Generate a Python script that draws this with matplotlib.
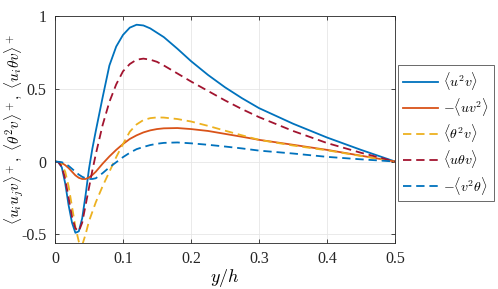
import matplotlib
matplotlib.use("Agg")
import matplotlib.pyplot as plt

# ---- data ----
x = [0, 0.005, 0.01, 0.015, 0.02, 0.025, 0.03, 0.035, 0.04, 0.045, 0.05, 0.055,
     0.06, 0.07, 0.08, 0.09, 0.1, 0.11, 0.12, 0.13, 0.14, 0.15, 0.16, 0.18,
     0.2, 0.225, 0.25, 0.275, 0.3, 0.35, 0.4, 0.45, 0.5]

u2v = [0, -0.005, -0.04, -0.15, -0.30, -0.42, -0.49, -0.48, -0.39, -0.23, -0.05, 0.09,
       0.21, 0.44, 0.66, 0.79, 0.87, 0.92, 0.94, 0.935, 0.915, 0.885, 0.855, 0.775,
       0.69, 0.595, 0.51, 0.435, 0.367, 0.26, 0.165, 0.08, 0]

m_uv2 = [0, -0.003, -0.01, -0.025, -0.045, -0.07, -0.095, -0.112, -0.12, -0.12, -0.11, -0.092,
         -0.07, -0.015, 0.035, 0.08, 0.12, 0.155, 0.18, 0.20, 0.214, 0.223, 0.228, 0.23,
         0.223, 0.21, 0.19, 0.17, 0.149, 0.115, 0.08, 0.04, 0]

th2v = [0, -0.004, -0.02, -0.07, -0.17, -0.31, -0.45, -0.55, -0.575, -0.50, -0.41, -0.345,
        -0.28, -0.17, -0.07, 0.03, 0.12, 0.205, 0.255, 0.285, 0.298, 0.303, 0.302, 0.292,
        0.275, 0.245, 0.212, 0.18, 0.149, 0.11, 0.077, 0.038, 0]

uthv = [0, -0.005, -0.035, -0.12, -0.25, -0.38, -0.46, -0.48, -0.42, -0.30, -0.18, -0.06,
        0.05, 0.25, 0.41, 0.53, 0.62, 0.67, 0.70, 0.707, 0.70, 0.685, 0.66, 0.605,
        0.55, 0.485, 0.42, 0.36, 0.305, 0.21, 0.127, 0.06, 0]

m_v2th = [0, -0.002, -0.005, -0.015, -0.03, -0.05, -0.07, -0.09, -0.105, -0.115, -0.12, -0.12,
          -0.115, -0.08, -0.04, -0.005, 0.03, 0.06, 0.085, 0.10, 0.113, 0.122, 0.128, 0.131,
          0.125, 0.115, 0.103, 0.09, 0.075, 0.055, 0.032, 0.015, 0]

labels = [r"$\langle u^2 v\rangle$", r"$-\langle u v^2\rangle$", r"$\langle \theta^2 v\rangle$",
          r"$\langle u\theta v\rangle$", r"$-\langle v^2\theta\rangle$"]
xticks = [0, 0.1, 0.2, 0.3, 0.4, 0.5]
xticklabels = ["0", "0.1", "0.2", "0.3", "0.4", "0.5"]
yticks = [-0.5, 0, 0.5, 1]
yticklabels = ["-0.5", "0", "0.5", "1"]

plt.rcParams["mathtext.fontset"] = "cm"
plt.rcParams["font.family"] = ["Liberation Serif", "DejaVu Serif"]
plt.rcParams["lines.scale_dashes"] = False

fig = plt.figure(figsize=(4.98, 2.89), dpi=100)
ax = fig.add_axes([55/498, 1-243/289, 340/498, 227/289])

c_blue = "#0072BD"
c_orange = "#D95319"
c_yellow = "#EDB120"
c_red = "#A2142F"
lw = 1.3
dash = (0, (6, 3.5))
series = [u2v, m_uv2, th2v, uthv, m_v2th]
colors = [c_blue, c_orange, c_yellow, c_red, c_blue]
styles = ["-", "-", dash, dash, dash]
for ys, c, ls, lab in zip(series, colors, styles, labels):
    ax.plot(x, ys, color=c, ls=ls, lw=lw, label=lab)

ax.set_xlim(0, 0.5)
ax.set_ylim(-0.56, 1)
ax.set_xticks(xticks)
ax.set_xticklabels(xticklabels)
ax.set_yticks(yticks)
ax.set_yticklabels(yticklabels)
ax.tick_params(direction="in", top=True, right=True, length=3, width=0.6,
               color="#262626", labelsize=11.5, labelcolor="#262626", pad=6)
ax.grid(True, color="#e6e6e6", lw=0.6)
ax.set_axisbelow(True)
for s in ax.spines.values():
    s.set_color("#262626")
    s.set_linewidth(0.6)

ax.set_xlabel(r"$y/h$", fontsize=13, labelpad=0)
ax.set_ylabel(r"$\langle u_i u_j v\rangle^+,\ \langle \theta^2 v\rangle^+,\ \langle u_i\theta v\rangle^+$",
              fontsize=11)
ax.yaxis.set_label_coords(-0.085, 0.5)

leg = fig.legend(loc="upper left", bbox_to_anchor=(398/498, 1-65/289), fontsize=10,
                 frameon=True, fancybox=False, borderpad=0.35, labelspacing=0.3,
                 handlelength=2.5, handletextpad=0.4, borderaxespad=0)
leg.get_frame().set_edgecolor("#262626")
leg.get_frame().set_linewidth(0.6)

fig.savefig("out.png", dpi=100)
